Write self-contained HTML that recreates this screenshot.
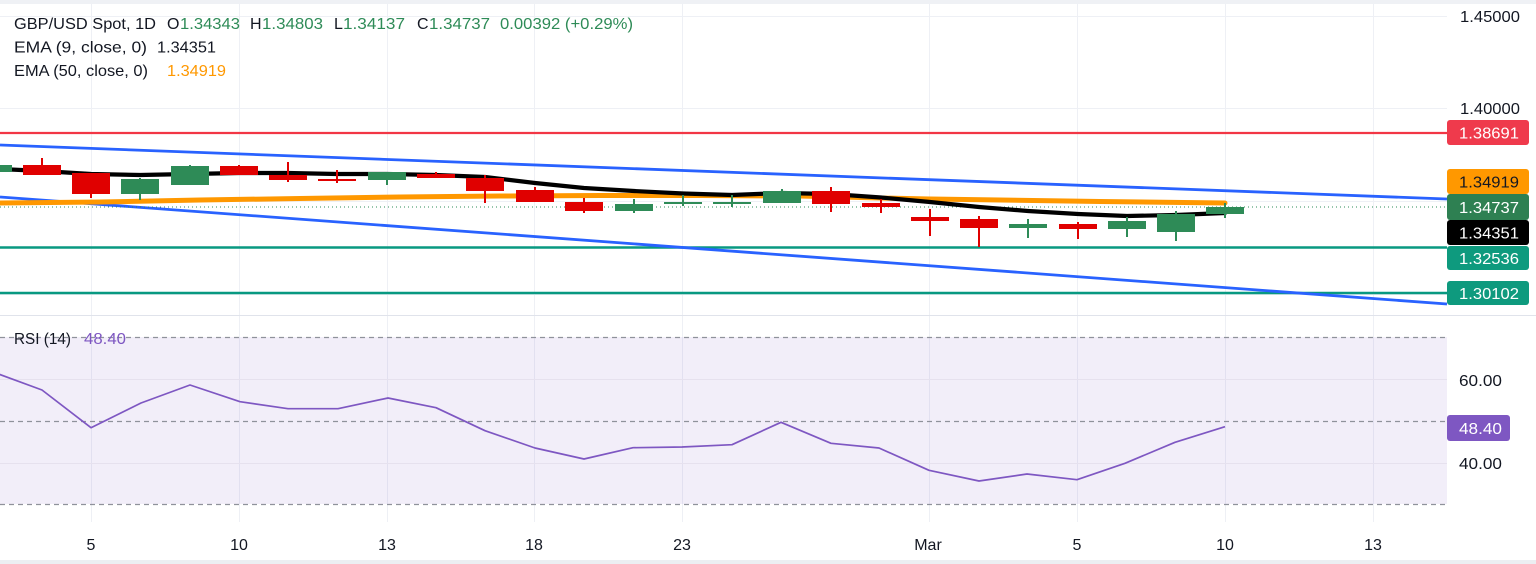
<!DOCTYPE html>
<html><head><meta charset="utf-8"><style>
html,body{margin:0;padding:0;background:#fff;}
svg{display:block;font-family:"Liberation Sans",sans-serif;}
</style></head><body>
<svg width="1536" height="564" viewBox="0 0 1536 564" xmlns="http://www.w3.org/2000/svg">
<rect x="0" y="0" width="1536" height="564" fill="#ffffff"/>
<rect x="0" y="0" width="1536" height="4" fill="#eff1f5"/>
<rect x="0" y="560" width="1536" height="4" fill="#eceef2"/>

<!-- grid -->
<g stroke="#eef0f5" stroke-width="1">
<line x1="0" y1="16.5" x2="1447" y2="16.5"/>
<line x1="0" y1="108.5" x2="1447" y2="108.5"/>
<line x1="0" y1="201.5" x2="1447" y2="201.5"/>
<line x1="0" y1="294.5" x2="1447" y2="294.5"/>
<line x1="91.5" y1="4" x2="91.5" y2="522"/>
<line x1="239.5" y1="4" x2="239.5" y2="522"/>
<line x1="387.5" y1="4" x2="387.5" y2="522"/>
<line x1="534.5" y1="4" x2="534.5" y2="522"/>
<line x1="682.5" y1="4" x2="682.5" y2="522"/>
<line x1="929.5" y1="4" x2="929.5" y2="522"/>
<line x1="1077.5" y1="4" x2="1077.5" y2="522"/>
<line x1="1225.5" y1="4" x2="1225.5" y2="522"/>
<line x1="1373.5" y1="4" x2="1373.5" y2="522"/>
</g>
<line x1="0" y1="315.5" x2="1536" y2="315.5" stroke="#e0e3eb" stroke-width="1"/>

<!-- horizontal levels -->
<line x1="0" y1="133" x2="1447" y2="133" stroke="#f23645" stroke-width="2.2"/>
<line x1="0" y1="247.5" x2="1447" y2="247.5" stroke="#089981" stroke-width="2.6"/>
<line x1="0" y1="293" x2="1447" y2="293" stroke="#089981" stroke-width="2.6"/>

<!-- trend lines -->
<line x1="0" y1="145" x2="1447" y2="199" stroke="#2962ff" stroke-width="2.8"/>
<line x1="0" y1="197" x2="1447" y2="304" stroke="#2962ff" stroke-width="2.8"/>

<line x1="0" y1="207" x2="1447" y2="207" stroke="#2e8b57" stroke-width="1" stroke-dasharray="1,3"/>

<!-- EMA50 -->
<polyline fill="none" stroke="#ff9800" stroke-width="5" stroke-linejoin="round" stroke-linecap="round"
points="0,203 100,202 200,200 300,198.5 400,197 500,196 600,195.5 700,195.5 800,196 880,198 930,199 1000,200 1100,201.5 1225,203"/>
<!-- EMA9 -->
<polyline fill="none" stroke="#000000" stroke-width="4.2" stroke-linejoin="round" stroke-linecap="round"
points="0,169 42,171 91,174 140,175 190,174 239,173 288,173 337,174 387,174 436,175 485,177 535,183 584,188 634,191 683,193.5 732,195 782,193 831,194 881,197.5 930,202 979,207 1028,211 1078,214 1127,216 1176,215 1225,213"/>

<!-- candles -->
<g fill="#2e8b57">
<rect x="-26" y="165" width="38" height="7"/><rect x="-8" y="163" width="2" height="10"/>
<rect x="121" y="179" width="38" height="15"/><rect x="139" y="178" width="2" height="22"/>
<rect x="171" y="166" width="38" height="19"/><rect x="189" y="165" width="2" height="20"/>
<rect x="368" y="172" width="38" height="8"/><rect x="386" y="172" width="2" height="13"/>
<rect x="615" y="204" width="38" height="7"/><rect x="633" y="199" width="2" height="14"/>
<rect x="664" y="202" width="38" height="2"/><rect x="682" y="195" width="2" height="11"/>
<rect x="713" y="202" width="38" height="2"/><rect x="731" y="195" width="2" height="12"/>
<rect x="763" y="191" width="38" height="12"/><rect x="781" y="189" width="2" height="14"/>
<rect x="1009" y="224" width="38" height="4"/><rect x="1027" y="219" width="2" height="19"/>
<rect x="1108" y="221" width="38" height="8"/><rect x="1126" y="217" width="2" height="20"/>
<rect x="1157" y="214" width="38" height="18"/><rect x="1175" y="211" width="2" height="30"/>
<rect x="1206" y="207" width="38" height="7"/><rect x="1224" y="203" width="2" height="15"/>
</g>
<g fill="#e00000">
<rect x="23" y="165" width="38" height="10"/><rect x="41" y="158" width="2" height="17"/>
<rect x="72" y="173" width="38" height="21"/><rect x="90" y="173" width="2" height="25"/>
<rect x="220" y="166" width="38" height="9"/><rect x="238" y="165" width="2" height="10"/>
<rect x="269" y="175" width="38" height="5"/><rect x="287" y="162" width="2" height="20"/>
<rect x="318" y="179" width="38" height="2"/><rect x="336" y="170" width="2" height="13"/>
<rect x="417" y="174" width="38" height="4"/><rect x="435" y="172" width="2" height="6"/>
<rect x="466" y="178" width="38" height="13"/><rect x="484" y="175" width="2" height="28"/>
<rect x="516" y="190" width="38" height="12"/><rect x="534" y="187" width="2" height="15"/>
<rect x="565" y="202" width="38" height="9"/><rect x="583" y="198" width="2" height="15"/>
<rect x="812" y="191" width="38" height="13"/><rect x="830" y="187" width="2" height="25"/>
<rect x="862" y="203" width="38" height="4"/><rect x="880" y="199" width="2" height="14"/>
<rect x="911" y="217" width="38" height="4"/><rect x="929" y="209" width="2" height="27"/>
<rect x="960" y="219" width="38" height="9"/><rect x="978" y="216" width="2" height="31"/>
<rect x="1059" y="224" width="38" height="5"/><rect x="1077" y="222" width="2" height="17"/>
</g>

<!-- header legend -->
<g font-size="16" fill="#131722">
<text x="14" y="29" textLength="142" lengthAdjust="spacingAndGlyphs">GBP/USD Spot, 1D</text>
<text x="167" y="29">O</text>
<text x="180" y="29" fill="#2e8b57" textLength="60" lengthAdjust="spacingAndGlyphs">1.34343</text>
<text x="250" y="29">H</text>
<text x="262" y="29" fill="#2e8b57" textLength="61" lengthAdjust="spacingAndGlyphs">1.34803</text>
<text x="334" y="29">L</text>
<text x="343" y="29" fill="#2e8b57" textLength="62" lengthAdjust="spacingAndGlyphs">1.34137</text>
<text x="417" y="29">C</text>
<text x="429" y="29" fill="#2e8b57" textLength="61" lengthAdjust="spacingAndGlyphs">1.34737</text>
<text x="500" y="29" fill="#2e8b57" textLength="133" lengthAdjust="spacingAndGlyphs">0.00392 (+0.29%)</text>
<text x="14" y="52.5" textLength="133" lengthAdjust="spacingAndGlyphs">EMA (9, close, 0)</text>
<text x="157" y="52.5" textLength="59" lengthAdjust="spacingAndGlyphs">1.34351</text>
<text x="14" y="76" textLength="134" lengthAdjust="spacingAndGlyphs">EMA (50, close, 0)</text>
<text x="167" y="76" fill="#ff9800" textLength="59" lengthAdjust="spacingAndGlyphs">1.34919</text>
</g>

<!-- price axis labels -->
<g font-size="16" fill="#131722">
<text x="1460" y="22" textLength="60" lengthAdjust="spacingAndGlyphs">1.45000</text>
<text x="1460" y="114" textLength="60" lengthAdjust="spacingAndGlyphs">1.40000</text>
</g>
<rect x="1447" y="120" width="82" height="25" rx="3" fill="#ef3a4c"/>
<rect x="1447" y="169" width="82" height="25" rx="3" fill="#ff9800"/>
<rect x="1447" y="194" width="82" height="26" rx="3" fill="#2e8052"/>
<rect x="1447" y="220" width="82" height="25" rx="3" fill="#000000"/>
<rect x="1447" y="246" width="82" height="24" rx="3" fill="#0e9a7e"/>
<rect x="1447" y="281" width="82" height="24" rx="3" fill="#0e9a7e"/>
<g font-size="16" fill="#ffffff">
<text x="1459" y="138.5" textLength="60" lengthAdjust="spacingAndGlyphs">1.38691</text>
<text x="1459" y="187.5" fill="#131722" textLength="60" lengthAdjust="spacingAndGlyphs">1.34919</text>
<text x="1459" y="213" textLength="60" lengthAdjust="spacingAndGlyphs">1.34737</text>
<text x="1459" y="238.5" textLength="60" lengthAdjust="spacingAndGlyphs">1.34351</text>
<text x="1459" y="264" textLength="60" lengthAdjust="spacingAndGlyphs">1.32536</text>
<text x="1459" y="299" textLength="60" lengthAdjust="spacingAndGlyphs">1.30102</text>
</g>

<!-- RSI pane -->
<rect x="0" y="337" width="1447" height="167" fill="#7e57c2" fill-opacity="0.1"/>
<g stroke="#e6e1ee" stroke-width="1">
<line x1="0" y1="379.5" x2="1447" y2="379.5"/>
<line x1="0" y1="463.5" x2="1447" y2="463.5"/>
</g>
<g stroke="#8f929b" stroke-width="1.2" stroke-dasharray="5,4">
<line x1="0" y1="337.5" x2="1447" y2="337.5"/>
<line x1="0" y1="421.5" x2="1447" y2="421.5"/>
<line x1="0" y1="504.5" x2="1447" y2="504.5"/>
</g>
<polyline fill="none" stroke="#7e57c2" stroke-width="1.7" stroke-linejoin="round"
points="-7,372 42,390 91,427.7 141,403 190,385 240,401.7 288,408.7 338,408.7 388,398 436,407.7 485,430.7 535,448 584,459 633,447.7 682,447 732,444.7 781,422.3 831,443.3 879,448 929,470.3 979,481 1027,474 1077,479.7 1125,463.3 1175,442.3 1225,426.7"/>

<g font-size="16">
<text x="14" y="344" fill="#131722" textLength="57" lengthAdjust="spacingAndGlyphs">RSI (14)</text>
<text x="84" y="344" fill="#7e57c2" textLength="42" lengthAdjust="spacingAndGlyphs">48.40</text>
</g>
<g font-size="16" fill="#131722">
<text x="1459" y="386" textLength="43" lengthAdjust="spacingAndGlyphs">60.00</text>
<text x="1459" y="469" textLength="43" lengthAdjust="spacingAndGlyphs">40.00</text>
</g>
<rect x="1447" y="415" width="63" height="26" rx="3" fill="#7e57c2"/>
<text x="1459" y="434" font-size="16" fill="#ffffff" textLength="43" lengthAdjust="spacingAndGlyphs">48.40</text>

<!-- time axis -->
<g font-size="16" fill="#131722" text-anchor="middle">
<text x="91" y="550">5</text>
<text x="239" y="550">10</text>
<text x="387" y="550">13</text>
<text x="534" y="550">18</text>
<text x="682" y="550">23</text>
<text x="928" y="550">Mar</text>
<text x="1077" y="550">5</text>
<text x="1225" y="550">10</text>
<text x="1373" y="550">13</text>
</g>
</svg>
</body></html>
